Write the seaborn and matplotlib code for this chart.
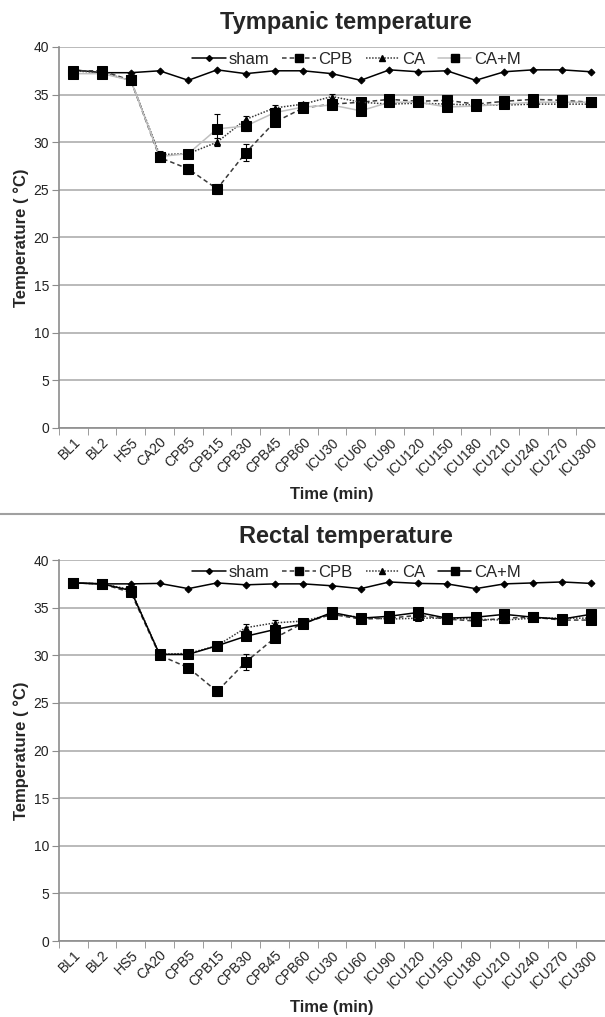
import numpy as np
import pandas as pd
import matplotlib
matplotlib.use('Agg')
import matplotlib.pyplot as plt
import seaborn as sns
from matplotlib.lines import Line2D

# Time points
times = ['BL1', 'BL2', 'HS5', 'CA20', 'CPB5', 'CPB15', 'CPB30', 'CPB45', 'CPB60',
         'ICU30', 'ICU60', 'ICU90', 'ICU120', 'ICU150', 'ICU180', 'ICU210',
         'ICU240', 'ICU270', 'ICU300']

# Tympanic temperature (means)
tymp_sham = [37.6, 37.3, 37.3, 37.5, 36.5, 37.6, 37.2, 37.5, 37.5, 37.2,
             36.5, 37.6, 37.4, 37.5, 36.5, 37.4, 37.6, 37.6, 37.4]
tymp_cpb = [37.5, 37.5, 36.5, 28.4, 27.2, 25.1, 28.9, 32.1, 33.6, 34.0,
            34.2, 34.5, 34.3, 34.4, 34.0, 34.3, 34.5, 34.4, 34.2]
tymp_ca = [37.5, 37.3, 36.5, 28.7, 28.8, 30.0, 32.4, 33.6, 34.0, 34.8,
           34.2, 34.0, 34.1, 34.0, 33.9, 33.9, 34.0, 34.0, 34.0]
tymp_cam = [37.2, 37.2, 36.5, 28.5, 28.8, 31.4, 31.7, 33.1, 33.7, 33.9,
            33.3, 34.2, 34.2, 33.7, 33.8, 34.0, 34.2, 34.2, 34.2]
# Tympanic temperature (error)
tymp_cpb_err = [0.2, 0.2, 0.2, 0.4, 0.5, 0.5, 0.9, 0.3, 0.3, 0.3,
                0.2, 0.2, 0.2, 0.2, 0.2, 0.2, 0.2, 0.2, 0.2]
tymp_ca_err = [0.2, 0.2, 0.2, 0.4, 0.3, 0.4, 0.4, 0.3, 0.2, 0.3,
               0.2, 0.2, 0.2, 0.2, 0.2, 0.2, 0.2, 0.2, 0.2]
tymp_cam_err = [0.2, 0.2, 0.2, 0.3, 0.3, 1.6, 0.5, 0.4, 0.2, 0.3,
                0.2, 0.3, 0.2, 0.3, 0.2, 0.3, 0.3, 0.3, 0.2]

# Rectal temperature (means)
rect_sham = [37.6, 37.5, 37.5, 37.55, 37.0, 37.6, 37.4, 37.5, 37.5, 37.3,
             37.0, 37.7, 37.55, 37.5, 37.0, 37.5, 37.6, 37.7, 37.55]
rect_cpb = [37.6, 37.5, 36.6, 30.0, 28.7, 26.2, 29.3, 31.8, 33.4, 34.3,
            33.8, 33.9, 34.2, 33.8, 33.6, 33.9, 34.0, 33.7, 33.7]
rect_ca = [37.6, 37.5, 36.9, 30.1, 30.2, 31.0, 32.9, 33.4, 33.6, 34.3,
           34.0, 33.8, 33.9, 33.9, 33.8, 33.7, 33.9, 33.9, 33.9]
rect_cam = [37.6, 37.5, 36.8, 30.1, 30.1, 31.0, 32.0, 32.7, 33.3, 34.5,
            33.9, 34.1, 34.5, 33.9, 34.0, 34.3, 34.0, 33.8, 34.3]
# Rectal temperature (error)
rect_cpb_err = [0.2, 0.2, 0.2, 0.4, 0.4, 0.5, 0.8, 0.3, 0.3, 0.2,
                0.2, 0.2, 0.2, 0.2, 0.2, 0.2, 0.2, 0.2, 0.3]
rect_ca_err = [0.2, 0.2, 0.3, 0.3, 0.3, 0.2, 0.4, 0.3, 0.2, 0.2,
               0.2, 0.3, 0.2, 0.2, 0.2, 0.3, 0.2, 0.3, 0.3]
rect_cam_err = [0.2, 0.2, 0.3, 0.5, 0.4, 0.2, 0.3, 0.3, 0.3, 0.3,
                0.3, 0.3, 0.3, 0.3, 0.2, 0.3, 0.2, 0.2, 0.5]

sns.set_style('white')
plt.rcParams['font.family'] = ['Liberation Sans', 'DejaVu Sans']

fig = plt.figure(figsize=(6.05, 10.17), dpi=100)
ax_top = fig.add_axes([0.0975, 0.5792, 0.9025, 0.3746])
ax_bot = fig.add_axes([0.0975, 0.0747, 0.9025, 0.3746])

grid_col = '#b4b4b4'
axis_col = '#8c8c8c'


def draw_panel(ax, title, sham, cpb, ca, cam, cpb_err, ca_err, cam_err, cam_color, title_y):
    series = [
        ('sham', sham, None, dict(color='black', linestyle='-', marker='D', markersize=3.5, lw=1.1)),
        ('CPB', cpb, cpb_err, dict(color='#3a3a3a', linestyle=(0, (3, 2)), marker='s', markersize=6.5, lw=1.1)),
        ('CA', ca, ca_err, dict(color='#3a3a3a', linestyle=(0, (1, 1)), marker='^', markersize=5, lw=1.1)),
        ('CA+M', cam, cam_err, dict(color=cam_color, linestyle='-', marker='s', markersize=6.5, lw=1.1)),
    ]
    handles = []
    for name, vals, err, st in series:
        df = pd.DataFrame({'time': times, 'temp': vals})
        sns.lineplot(data=df, x='time', y='temp', ax=ax, sort=False,
                     color=st['color'], linestyle=st['linestyle'], lw=st['lw'],
                     marker=st['marker'], markersize=st['markersize'],
                     markerfacecolor='black', markeredgecolor='black', zorder=3)
        if err is not None:
            ax.errorbar(times, vals, yerr=err, fmt='none', ecolor='black',
                        elinewidth=0.8, capsize=2.5, capthick=0.8, zorder=4)
        handles.append(Line2D([0], [0], color=st['color'], linestyle=st['linestyle'], lw=st['lw'],
                              marker=st['marker'], markersize=st['markersize'] * 0.85,
                              markerfacecolor='black', markeredgecolor='black'))

    ax.set_ylim(0, 40)
    ax.set_xlim(-0.5, len(times) - 0.5)
    ax.set_yticks(range(0, 41, 5))
    ax.set_xticks(range(len(times)))
    ax.set_xticklabels(times, rotation=45, ha='right', rotation_mode='anchor', fontsize=10, color='#222222')
    ax.tick_params(axis='y', labelsize=10, labelcolor='#222222', length=5, color=axis_col,
                   direction='out', left=True, pad=2)
    ax.tick_params(axis='x', length=0, pad=5)
    # minor ticks between categories on the x axis
    ax.set_xticks(np.arange(-0.5, len(times), 1), minor=True)
    ax.tick_params(axis='x', which='minor', length=5, color=axis_col, direction='out', bottom=True)

    ax.yaxis.grid(True, color=grid_col, lw=1.3)
    ax.xaxis.grid(False)
    ax.set_axisbelow(True)
    for side in ['top', 'right']:
        ax.spines[side].set_visible(False)
    for side in ['left', 'bottom']:
        ax.spines[side].set_color(axis_col)
        ax.spines[side].set_linewidth(1.2)

    ax.set_xlabel('Time (min)', fontsize=12, fontweight='bold', labelpad=6)
    ax.set_ylabel('Temperature ( °C)', fontsize=12, fontweight='bold', labelpad=3)
    fig.text(0.572, title_y, title, fontsize=17, fontweight='bold', ha='center', va='center')

    ax.legend(handles, ['sham', 'CPB', 'CA', 'CA+M'], loc='center', bbox_to_anchor=(0.545, 0.968),
              ncol=4, frameon=False, fontsize=12, handlelength=2.0, handletextpad=0.15,
              columnspacing=0.8, borderaxespad=0)


draw_panel(ax_top, 'Tympanic temperature', tymp_sham, tymp_cpb, tymp_ca, tymp_cam,
           tymp_cpb_err, tymp_ca_err, tymp_cam_err, '#c0c0c0', 1 - 22 / 1017)
draw_panel(ax_bot, 'Rectal temperature', rect_sham, rect_cpb, rect_ca, rect_cam,
           rect_cpb_err, rect_ca_err, rect_cam_err, 'black', 1 - 536 / 1017)

# separator between the two panels
fig.add_artist(Line2D([0, 1], [1 - 514 / 1017, 1 - 514 / 1017], color='#a0a0a0', lw=1.5))

fig.savefig('out.png', dpi=100)
